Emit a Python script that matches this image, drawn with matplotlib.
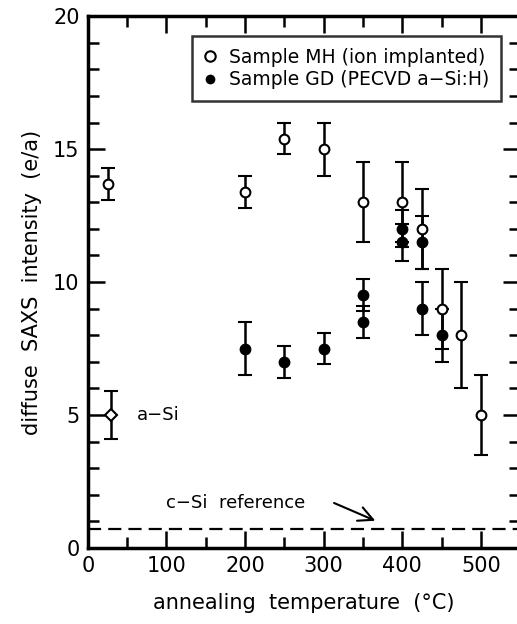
import numpy as np
import matplotlib.pyplot as plt
from matplotlib.lines import Line2D
from matplotlib.ticker import MultipleLocator

# Sample MH (ion implanted) - open circles
mh_temp = [25, 200, 250, 300, 350, 400, 425, 450, 475, 500]
mh_val = [13.7, 13.4, 15.4, 15.0, 13.0, 13.0, 12.0, 9.0, 8.0, 5.0]
mh_err = [0.6, 0.6, 0.6, 1.0, 1.5, 1.5, 1.5, 1.5, 2.0, 1.5]

# Sample GD (PECVD a-Si:H) - filled circles
gd_temp = [200, 250, 300, 350, 350, 400, 400, 425, 425, 450]
gd_val = [7.5, 7.0, 7.5, 9.5, 8.5, 12.0, 11.5, 11.5, 9.0, 8.0]
gd_err = [1.0, 0.6, 0.6, 0.6, 0.6, 0.7, 0.7, 1.0, 1.0, 1.0]

# a-Si reference point
asi_temp = [30]
asi_val = [5.0]
asi_err = [0.9]

csi_ref = 0.7

plt.rcParams["font.family"] = "DejaVu Sans"

fig = plt.figure(figsize=(5.17, 6.24), dpi=100)
ax = fig.add_axes([0.170, 0.122, 0.836, 0.852])

ebkw = dict(ls="none", color="black", ecolor="black", elinewidth=1.8,
            capsize=5, capthick=1.8, markersize=7, markeredgewidth=1.5)

ax.errorbar(mh_temp, mh_val, yerr=mh_err, fmt="o", markerfacecolor="white",
            markeredgecolor="black", **ebkw)
ax.errorbar(gd_temp, gd_val, yerr=gd_err, fmt="o", markerfacecolor="black",
            markeredgecolor="black", **ebkw)
ax.errorbar(asi_temp, asi_val, yerr=asi_err, fmt="D", markerfacecolor="white",
            markeredgecolor="black", **{**ebkw, "markersize": 6})

ax.axhline(csi_ref, color="black", lw=1.6, dashes=(5.9, 3.2))

ax.text(62, 5.0, "a\u2212Si", fontsize=13, va="center", ha="left")
ax.text(100, 1.7, "c\u2212Si  reference", fontsize=13, va="center", ha="left")
ax.annotate("", xy=(369, 0.98), xytext=(310, 1.73),
            arrowprops=dict(arrowstyle="->", color="black", lw=1.5,
                            mutation_scale=26))

ax.set_xlim(0, 550)
ax.set_ylim(0, 20)
ax.xaxis.set_major_locator(MultipleLocator(100))
ax.xaxis.set_minor_locator(MultipleLocator(50))
ax.yaxis.set_major_locator(MultipleLocator(5))
ax.yaxis.set_minor_locator(MultipleLocator(1))
ax.tick_params(which="both", direction="in", top=True, right=True,
               width=1.8, labelsize=15, pad=6)
ax.tick_params(which="major", length=12)
ax.tick_params(which="minor", length=8)
for s in ax.spines.values():
    s.set_linewidth(2.5)

ax.set_xlabel("annealing  temperature  (\u00b0C)", fontsize=15, labelpad=12)
ax.set_ylabel("diffuse  SAXS  intensity  (e/a)", fontsize=15, labelpad=8)

handles = [
    Line2D([], [], ls="none", marker="o", markersize=7.5, markeredgewidth=1.5,
           markerfacecolor="white", markeredgecolor="black"),
    Line2D([], [], ls="none", marker="o", markersize=5.5, markeredgewidth=1.5,
           markerfacecolor="black", markeredgecolor="black"),
]
labels = ["Sample MH (ion implanted)", "Sample GD (PECVD a\u2212Si:H)"]
leg = ax.legend(handles, labels, loc="upper right", bbox_to_anchor=(0.955, 0.962),
                fontsize=13.5, frameon=True, fancybox=False, handlelength=0.8,
                handletextpad=0.6, borderpad=0.6, labelspacing=0.2,
                borderaxespad=0)
leg.get_frame().set_edgecolor("black")
leg.get_frame().set_linewidth(1.8)

fig.savefig("out.png", dpi=100)
